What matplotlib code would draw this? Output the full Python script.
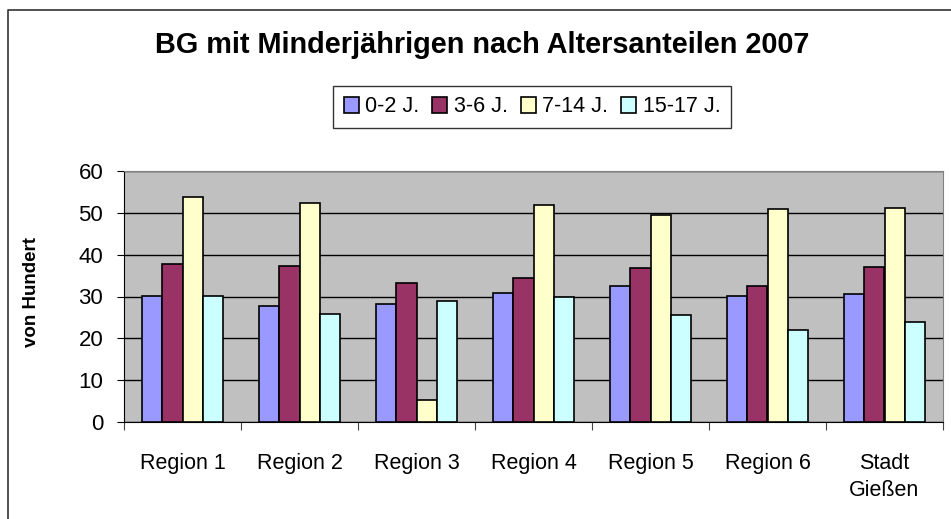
import numpy as np
import matplotlib
matplotlib.use('Agg')
import matplotlib.pyplot as plt
from matplotlib.lines import Line2D

# Daten
regionen = ['Region 1', 'Region 2', 'Region 3', 'Region 4', 'Region 5', 'Region 6', 'Stadt\nGießen']
altersgruppen = ['0-2 J.', '3-6 J.', '7-14 J.', '15-17 J.']
werte_0_2 = [30.2, 27.8, 28.2, 30.9, 32.4, 30.2, 30.5]
werte_3_6 = [37.7, 37.3, 33.2, 34.4, 36.7, 32.4, 37.0]
werte_7_14 = [53.8, 52.3, 5.3, 51.9, 49.6, 50.8, 51.1]
werte_15_17 = [30.2, 25.9, 29.0, 29.8, 25.5, 22.1, 24.0]
farben = ['#9999FF', '#993366', '#FFFFCC', '#CCFFFF']
y_ticks = [0, 10, 20, 30, 40, 50, 60]

plt.rcParams['font.family'] = ['Liberation Sans', 'DejaVu Sans']

fig = plt.figure(figsize=(9.51, 5.19), dpi=100)
ax = fig.add_axes([124 / 951, 1 - 422 / 519, 819 / 951, 251 / 519])
ax.set_facecolor('#C0C0C0')

x = np.arange(len(regionen))
breite = 0.175
serien = [werte_0_2, werte_3_6, werte_7_14, werte_15_17]
for i, (werte, farbe, name) in enumerate(zip(serien, farben, altersgruppen)):
    ax.bar(x + (i - 1.5) * breite, werte, breite, color=farbe, edgecolor='black',
           linewidth=1.2, label=name, zorder=3)

# Achsen
ax.set_xlim(-0.5, len(regionen) - 0.5)
ax.set_ylim(0, 60)
ax.set_yticks(y_ticks)
ax.yaxis.grid(True, color='black', linewidth=1, zorder=1)
ax.tick_params(axis='y', labelsize=16, length=5, pad=10, direction='out')

ax.set_xticks(np.arange(len(regionen) + 1) - 0.5)
ax.set_xticklabels([])
ax.set_xticks(x, minor=True)
ax.set_xticklabels(regionen, minor=True, fontsize=15.5, linespacing=1.4)
ax.tick_params(axis='x', which='major', length=6, direction='out', color='#444444')
ax.tick_params(axis='x', which='minor', length=0, pad=22)

for s in ['top', 'right']:
    ax.spines[s].set_color('#808080')
ax.spines['left'].set_color('black')
ax.spines['bottom'].set_color('black')

fig.text(32 / 951, 1 - 292 / 519, 'von Hundert', rotation=90, fontsize=13.5,
         fontweight='bold', ha='center', va='center')
fig.text(482 / 951, 1 - 45 / 519, 'BG mit Minderjährigen nach Altersanteilen 2007',
         fontsize=20.8, fontweight='bold', ha='center', va='center')

leg = fig.legend(loc='center', bbox_to_anchor=(532 / 951, 1 - 107 / 519), ncol=4,
                 fontsize=15.5, frameon=True, fancybox=False, edgecolor='black',
                 handlelength=0.7, handleheight=0.7, handletextpad=0.3,
                 columnspacing=0.6, borderpad=0.5)
leg.get_frame().set_linewidth(1)

# Rahmen um das Diagramm
fig.add_artist(Line2D([8 / 951, 8 / 951, 1.0], [0.0, 1 - 10 / 519, 1 - 10 / 519],
                      color='#333333', linewidth=1.2))

fig.savefig('out.png', dpi=100)
